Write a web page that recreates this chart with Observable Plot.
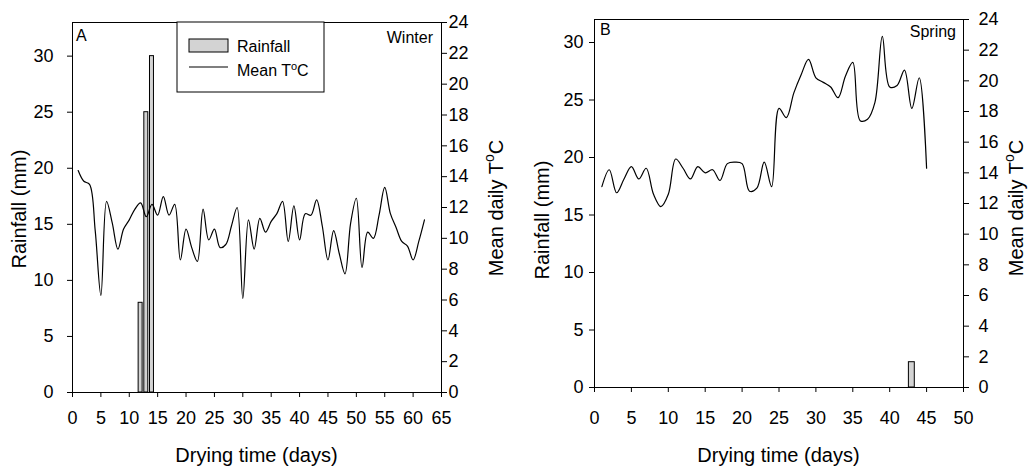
<!DOCTYPE html>
<html><head><meta charset="utf-8">
<script src="https://cdn.jsdelivr.net/npm/d3@7"></script>
<script src="https://cdn.jsdelivr.net/npm/@observablehq/plot@0.6"></script>
<style>
body{margin:0;background:#fff;font-family:"Liberation Sans",Arial,sans-serif;}
#wrap{position:relative;width:1032px;height:475px;overflow:hidden;}
.layer{position:absolute;top:0;}
.layer svg{display:block;overflow:visible;}
.layer svg g[aria-label$="tick label"]{font-size:18px !important;font-family:"Liberation Sans",Arial,sans-serif !important;}
</style></head><body><div id="wrap"></div>
<script>
// ---- data ----
const winterTemp = [14.4,13.7,13.5,10.5,6.3,12.4,11.0,9.3,10.6,11.2,11.9,12.3,11.4,12.2,11.5,12.7,11.5,12.2,8.6,10.6,
  9.4,8.5,11.9,9.9,10.6,9.4,9.6,10.8,12.0,6.1,11.2,9.3,11.3,10.4,11.1,11.6,12.4,9.8,12.1,9.9,
  11.6,11.5,12.5,10.8,8.6,10.5,9.0,7.7,11.0,12.6,8.1,10.4,10.0,11.5,13.3,11.6,10.7,9.8,9.5,8.6,
  9.8,11.2];
const springTemp = [13.1,14.2,12.7,13.6,14.4,13.6,14.3,12.6,11.8,12.6,14.9,14.3,13.6,14.4,14.0,14.2,13.5,14.6,14.7,14.6,
  12.8,13.0,14.7,13.1,18.2,17.6,19.2,20.4,21.4,20.2,19.9,19.6,18.9,20.3,21.2,17.4,17.5,18.6,22.9,19.6,
  19.7,20.7,18.2,20.2,14.3];
const winterRainDays = [12,13,14];
const winterRainMm = [8,25,30];
const springRainDays = [43];
const springRainMm = [2.2];
const rainTicks = [0,5,10,15,20,25,30];
const tempTicks = [0,2,4,6,8,10,12,14,16,18,20,22,24];
const xTicksA = [0,5,10,15,20,25,30,35,40,45,50,55,60,65];
const xTicksB = [0,5,10,15,20,25,30,35,40,45,50];

const FONT = '"Liberation Sans", Arial, sans-serif';
const wrap = document.getElementById("wrap");

function panel(cfg){
  const rain = cfg.rainDays.map((d,i)=>({day:d, mm:cfg.rainMm[i]}));
  const temp = cfg.temp.map((t,i)=>({day:i+1, t}));
  const common = {width:cfg.width, height:475, marginLeft:cfg.ml, marginRight:cfg.mr, marginTop:cfg.mt, marginBottom:cfg.mb,
    style:{fontFamily:FONT, fontSize:"18px", color:"black", background:"transparent", overflow:"visible"}};
  const base = Plot.plot({...common,
    x:{domain:cfg.xDomain},
    y:{domain:[0,cfg.rainMax]},
    marks:[
      Plot.rect(rain,{x1:d=>d.day-cfg.bw, x2:d=>d.day+cfg.bw, y1:0, y2:"mm", fill:"#d3d3d3", stroke:"black", strokeWidth:1}),
      Plot.frame({stroke:"black", strokeWidth:1}),
      Plot.axisY({ticks:rainTicks, tickSize:5, tickPadding:cfg.padL, label:null, fontSize:18}),
      Plot.axisX({ticks:cfg.xTicks, tickSize:5, tickPadding:cfg.padX, label:null, fontSize:18})
    ]});
  const over = Plot.plot({...common,
    x:{domain:cfg.xDomain, axis:null},
    y:{domain:[0,24]},
    marks:[
      Plot.line(temp,{x:"day", y:"t", curve:"catmull-rom", stroke:"black", strokeWidth:1.2}),
      Plot.axisY({anchor:"right", ticks:tempTicks, tickSize:5, tickPadding:cfg.padR, label:null, fontSize:18})
    ]});
  const d1 = document.createElement("div"); d1.className="layer"; d1.style.left=cfg.left+"px"; d1.appendChild(base);
  const d2 = document.createElement("div"); d2.className="layer"; d2.style.left=cfg.left+"px"; d2.appendChild(over);
  wrap.appendChild(d1); wrap.appendChild(d2);

  const s = d3.select(over);
  const g = s.append("g").attr("font-family",FONT).attr("fill","black").attr("text-anchor","start");
  g.append("text").attr("x",cfg.letterX).attr("y",cfg.letterY).attr("font-size",16).text(cfg.letter);
  g.append("text").attr("x",cfg.seasonX).attr("y",cfg.seasonY).attr("font-size",16).attr("text-anchor","end").text(cfg.season);
  g.append("text").attr("x",cfg.xTitleX).attr("y",462).attr("font-size",20).attr("text-anchor","middle").text("Drying time (days)");
  g.append("text").attr("transform",`translate(${cfg.lTitleX},${cfg.lTitleY}) rotate(-90)`).attr("font-size",20)
    .attr("text-anchor","middle").text("Rainfall (mm)");
  const rt = g.append("text").attr("transform",`translate(${cfg.rTitleX},${cfg.rTitleY}) rotate(-90)`).attr("font-size",20)
    .attr("text-anchor","middle");
  rt.append("tspan").text("Mean daily T");
  rt.append("tspan").attr("font-size",14).attr("dy",-9).text("o");
  rt.append("tspan").attr("dy",9).text("C");

  if (cfg.legend){
    const L = g.append("g").attr("transform",`translate(${cfg.legend[0]},${cfg.legend[1]})`);
    L.append("rect").attr("x",0).attr("y",0).attr("width",147).attr("height",70).attr("fill","white").attr("stroke","black");
    L.append("rect").attr("x",12).attr("y",17).attr("width",39).attr("height",13).attr("fill","#d3d3d3").attr("stroke","black");
    L.append("line").attr("x1",12).attr("x2",51).attr("y1",45).attr("y2",45).attr("stroke","black").attr("stroke-width",1.2);
    L.append("text").attr("x",60).attr("y",30).attr("font-size",16).text("Rainfall");
    const t2 = L.append("text").attr("x",60).attr("y",54).attr("font-size",16);
    t2.append("tspan").text("Mean T");
    t2.append("tspan").attr("font-size",11).attr("dy",-6).text("o");
    t2.append("tspan").attr("dy",6).text("C");
  }
}

panel({left:0, width:520, ml:72, mr:79, mt:22, mb:83, xDomain:[0,65], rainMax:33, xTicks:xTicksA,
  padL:14, padR:2, padX:14, bw:0.35,
  temp:winterTemp, rainDays:winterRainDays, rainMm:winterRainMm,
  letter:"A", letterX:76, letterY:41, season:"Winter", seasonX:433, seasonY:43,
  xTitleX:256.5, lTitleX:26, lTitleY:209, rTitleX:503, rTitleY:208, legend:[177,22]});

panel({left:520, width:512, ml:74, mr:69, mt:19, mb:88, xDomain:[0,50], rainMax:32, xTicks:xTicksB,
  padL:6, padR:10, padX:19, bw:0.4,
  temp:springTemp, rainDays:springRainDays, rainMm:springRainMm,
  letter:"B", letterX:80, letterY:35, season:"Spring", seasonX:436, seasonY:37,
  xTitleX:258.5, lTitleX:29, lTitleY:220, rTitleX:503, rTitleY:208, legend:null});
</script></body></html>
